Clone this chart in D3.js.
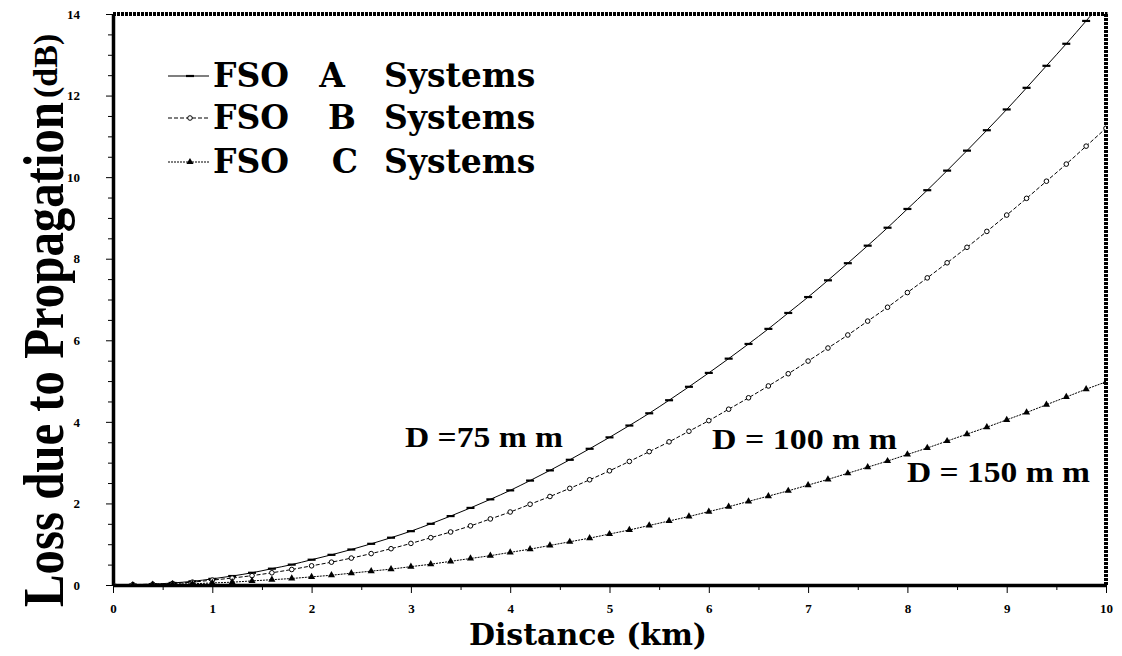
<!DOCTYPE html>
<html>
<head>
<meta charset="utf-8">
<script src="https://cdn.jsdelivr.net/npm/d3@7"></script>
<style>
body{margin:0;background:#fff;}
svg{display:block;}
</style>
</head>
<body>
<div id="contenedor_grafico"></div>
<script>
// distancia en km (eje x)
var distancias = [0,0.2,0.4,0.6,0.8,1,1.2,1.4,1.6,1.8,2,2.2,2.4,2.6,2.8,3,3.2,3.4,3.6,3.8,4,
	4.2,4.4,4.6,4.8,5,5.2,5.4,5.6,5.8,6,6.2,6.4,6.6,6.8,7,7.2,7.4,7.6,7.8,8,
	8.2,8.4,8.6,8.8,9,9.2,9.4,9.6,9.8,10];

// perdidas (dB)
var perdidasA = [0.00,0.01,0.02,0.05,0.09,0.15,0.22,0.30,0.40,0.50,0.62,0.74,0.87,1.01,1.16,1.32,1.50,1.69,1.89,2.10,2.32,
	2.56,2.81,3.07,3.34,3.62,3.91,4.21,4.53,4.86,5.20,5.55,5.91,6.28,6.67,7.06,7.47,7.89,8.32,8.76,9.22,
	9.68,10.16,10.65,11.15,11.66,12.19,12.73,13.27,13.83,14.40];
var perdidasB = [0.00,0.01,0.02,0.04,0.07,0.12,0.17,0.23,0.30,0.38,0.47,0.56,0.66,0.77,0.89,1.02,1.16,1.30,1.45,1.62,1.79,
	1.98,2.17,2.37,2.58,2.80,3.03,3.27,3.51,3.77,4.03,4.31,4.59,4.88,5.18,5.49,5.81,6.13,6.47,6.81,7.17,
	7.53,7.90,8.28,8.67,9.07,9.48,9.90,10.32,10.76,11.20];
var perdidasC = [0.00,0.00,0.01,0.02,0.03,0.05,0.07,0.10,0.13,0.16,0.20,0.24,0.29,0.34,0.39,0.45,0.51,0.58,0.65,0.72,0.80,
	0.88,0.97,1.06,1.15,1.25,1.35,1.46,1.57,1.68,1.80,1.92,2.05,2.18,2.31,2.45,2.59,2.74,2.89,3.04,3.20,
	3.36,3.53,3.70,3.87,4.05,4.23,4.42,4.61,4.80,4.98];

var letrasSistema = ["A", "B", "C"];
var etiquetasDiametro = ["D =75 m m", "D = 100 m m", "D = 150 m m"];
var ticksX = [0,1,2,3,4,5,6,7,8,9,10];
var ticksY = [0,2,4,6,8,10,12,14];

function graficarPerdidas(){
	var width = 1122;
	var height = 656;
	var izq = 113, der = 1106, arriba = 14, abajo = 585;

	var x = d3.scaleLinear().domain([0, 10]).range([izq, der]);
	var y = d3.scaleLinear().domain([0, 14]).range([abajo, arriba]);

	var svg = d3.select("#contenedor_grafico")
				.append("svg")
				.attr("width", width)
				.attr("height", height);

	svg.append("clipPath")
		.attr("id", "recorte")
		.append("rect")
		.attr("x", izq).attr("y", arriba)
		.attr("width", der - izq).attr("height", abajo - arriba);

	var fuenteTicks = "'Liberation Serif', serif";
	var fuenteTitulos = "'DejaVu Serif', serif";

	// ticks menores cada 0.5
	var menoresX = d3.range(0.5, 10, 1);
	var menoresY = d3.range(0.5, 14, 0.5).filter(function(v){ return v % 2 != 0; });

	svg.append("g")
		.attr("transform", "translate(0," + abajo + ")")
		.call(d3.axisBottom(x).tickValues(menoresX).tickSize(5).tickFormat(""))
		.call(function(g){ g.select(".domain").remove(); });

	svg.append("g")
		.attr("transform", "translate(" + izq + ",0)")
		.call(d3.axisLeft(y).tickValues(menoresY).tickSize(5).tickFormat(""))
		.call(function(g){ g.select(".domain").remove(); });

	var ejeX = svg.append("g")
		.attr("transform", "translate(0," + abajo + ")")
		.call(d3.axisBottom(x).tickValues(ticksX).tickSize(8).tickPadding(11).tickSizeOuter(0));
	ejeX.select(".domain").attr("stroke-width", 3.5);
	ejeX.selectAll("text")
		.style("font-family", fuenteTicks).style("font-size", "13px").style("font-weight", "bold");

	var ejeY = svg.append("g")
		.attr("transform", "translate(" + izq + ",0)")
		.call(d3.axisLeft(y).tickValues(ticksY).tickSize(7).tickPadding(26).tickSizeOuter(0));
	ejeY.select(".domain").attr("stroke-width", 3.5);
	ejeY.selectAll("text")
		.style("font-family", fuenteTicks).style("font-size", "13px").style("font-weight", "bold");

	// marco superior y derecho punteado
	svg.append("line")
		.attr("x1", izq).attr("x2", der + 1.5).attr("y1", arriba).attr("y2", arriba)
		.attr("stroke", "#000").attr("stroke-width", 4).attr("stroke-dasharray", "3,1");
	svg.append("line")
		.attr("x1", der).attr("x2", der).attr("y1", arriba).attr("y2", abajo)
		.attr("stroke", "#000").attr("stroke-width", 4).attr("stroke-dasharray", "3,1");

	var series = [perdidasA, perdidasB, perdidasC];
	var trazos = ["none", "4,2", "2,1"];

	var linea = d3.line()
				.x(function(d){ return x(d[0]); })
				.y(function(d){ return y(d[1]); })
				.curve(d3.curveMonotoneX);

	var capa = svg.append("g").attr("clip-path", "url(#recorte)");

	function marcador(sel, tipo){
		if(tipo == 0){
			sel.append("path").attr("d", "M-4,0H4").attr("stroke", "#000").attr("stroke-width", 2.2);
		}else if(tipo == 1){
			sel.append("circle").attr("r", 2.3).attr("fill", "#fff").attr("stroke", "#000").attr("stroke-width", 1);
		}else{
			sel.append("path").attr("d", d3.symbol(d3.symbolTriangle, 22)).attr("fill", "#000");
		}
	}

	series.forEach(function(vals, i){
		var puntos = distancias.map(function(d, k){ return [d, vals[k]]; });
		capa.append("path")
			.datum(puntos)
			.attr("d", linea)
			.attr("fill", "none")
			.attr("stroke", "#000")
			.attr("stroke-width", 1)
			.attr("stroke-dasharray", trazos[i]);
		capa.selectAll(".m" + i)
			.data(puntos)
			.enter()
			.append("g")
			.attr("class", "m" + i)
			.attr("transform", function(d){ return "translate(" + x(d[0]) + "," + y(d[1]) + ")"; })
			.each(function(){ marcador(d3.select(this), i); });
	});

	// leyenda
	var baseLeyenda = [87, 129, 173];
	var centroLetra = [332, 342, 345];
	letrasSistema.forEach(function(l, i){
		var yl = baseLeyenda[i] - 11;
		svg.append("line")
			.attr("x1", 168).attr("x2", 209).attr("y1", yl).attr("y2", yl)
			.attr("stroke", "#000").attr("stroke-width", 1.2)
			.attr("stroke-dasharray", trazos[i]);
		var m = svg.append("g").attr("transform", "translate(190," + yl + ")");
		marcador(m, i);
		var t = svg.append("text")
			.attr("y", baseLeyenda[i])
			.style("font-family", fuenteTitulos)
			.style("font-size", "33px")
			.style("font-weight", "bold");
		t.append("tspan").attr("x", 213).text("FSO");
		t.append("tspan").attr("x", centroLetra[i]).attr("text-anchor", "middle").text(l);
		t.append("tspan").attr("x", 384).text("Systems");
	});

	// etiquetas de diametro
	var posEtiquetas = [[405, 447, 158], [712, 449, 185], [907, 482, 183]];
	etiquetasDiametro.forEach(function(e, i){
		svg.append("text")
			.attr("x", posEtiquetas[i][0])
			.attr("y", posEtiquetas[i][1])
			.attr("textLength", posEtiquetas[i][2])
			.attr("lengthAdjust", "spacingAndGlyphs")
			.style("font-family", fuenteTicks)
			.style("font-size", "29px")
			.style("font-weight", "bold")
			.text(e);
	});

	// titulos de ejes
	svg.append("text")
		.attr("x", 588)
		.attr("y", 645)
		.attr("text-anchor", "middle")
		.style("font-family", fuenteTitulos)
		.style("font-size", "30px")
		.style("font-weight", "bold")
		.text("Distance (km)");

	var tituloY = svg.append("text")
		.attr("transform", "translate(63,607) rotate(-90)")
		.style("font-family", fuenteTicks)
		.style("font-weight", "bold");
	tituloY.append("tspan")
		.style("font-size", "58px")
		.attr("textLength", 505)
		.attr("lengthAdjust", "spacingAndGlyphs")
		.text("Loss due to Propagation");
	tituloY.append("tspan")
		.style("font-size", "34px")
		.attr("dx", 4)
		.attr("dy", -6)
		.text("(dB)");
}

graficarPerdidas();
</script>
</body>
</html>
